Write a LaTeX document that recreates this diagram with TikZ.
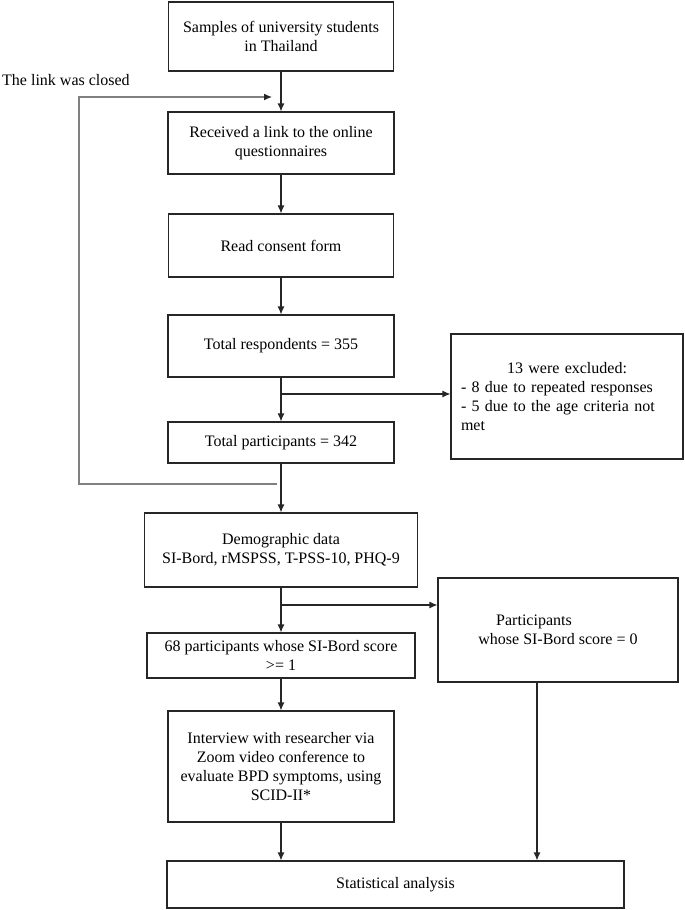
\documentclass[tikz,border=0pt]{standalone}
\usepackage{fontspec}
\setmainfont{Liberation Serif}
\usetikzlibrary{arrows.meta}
\newcommand\stage[5]{\node[stage,minimum width=#3pt,minimum height=#4pt] (#1) at (#2) {#5};}
\newcommand\fork[2]{\coordinate (#1) at (#2);}
\begin{document}
\begin{tikzpicture}[x=1pt,y=-1pt]
\tikzstyle{stage}=[draw=black!85,line width=1.1pt,align=center,inner sep=0pt,font=\fontsize{16}{18.7}\selectfont]
\tikzstyle{note}=[stage,text width=212pt,align=left]
\tikzstyle{flow}=[draw=black!85,line width=1.1pt,-{Latex[length=8pt,width=7pt]}]
\tikzstyle{back}=[draw=black!50,line width=1.2pt,-{Latex[length=8pt,width=7pt,black!85]}]
\useasboundingbox (0,0) rectangle (685,910);
\stage{samples}{281,36.5}{225}{69}{Samples of university students\\in Thailand}
\stage{link}{281,143}{226}{62}{Received a link to the online\\questionnaires}
\stage{consent}{281,245.5}{225}{63}{Read consent form}
\stage{respondents}{281,346}{226}{62}{Total respondents = 355}
\node[note,minimum width=232pt,minimum height=125pt] (excluded) at (567,396.5)
  {\hfill 13 were excluded:\hfill\null\\- 8 due to repeated responses\\- 5 due to the age criteria not\\met};
\stage{participants}{281,442.5}{226}{41}{Total participants = 342}
\stage{demographic}{281,550}{273}{74}{Demographic data\\SI-Bord, rMSPSS, T-PSS-10, PHQ-9}
\stage{scored}{281,655.5}{268}{45}{68 participants whose SI-Bord score\\>= 1}
\stage{zero}{558,630}{240}{104}{Participants\hspace{48pt}\null\\whose SI-Bord score = 0}
\stage{interview}{281,766.5}{226}{111}{Interview with researcher via\\Zoom video conference to\\evaluate BPD symptoms, using\\SCID-II*}
\stage{stats}{395.5,884.5}{457}{47}{Statistical analysis}
\node[anchor=west,inner sep=0pt,font=\fontsize{16}{18.7}\selectfont] (closed) at (2,80) {The link was closed};
\draw[flow] (samples) -- (link);
\draw[flow] (link) -- (consent);
\draw[flow] (consent) -- (respondents);
\draw[flow] (respondents) -- (participants);
\fork{cut1}{281,394}
\draw[flow] (cut1) -- (cut1 -| excluded.west);
\draw[flow] (participants) -- (demographic);
\draw[flow] (demographic) -- (scored);
\fork{cut2}{281,605}
\draw[flow] (cut2) -- (cut2 -| zero.west);
\draw[flow] (scored) -- (interview);
\draw[flow] (interview.south) -- (interview.south |- stats.north);
\draw[flow] ([xshift=-21pt]zero.south) -- ([xshift=-21pt]zero.south |- stats.north);
\fork{closedfrom}{277,484}
\fork{closedto}{272,97}
\draw[back] (closedfrom) -- (79,484) |- (closedto);
\end{tikzpicture}
\end{document}
